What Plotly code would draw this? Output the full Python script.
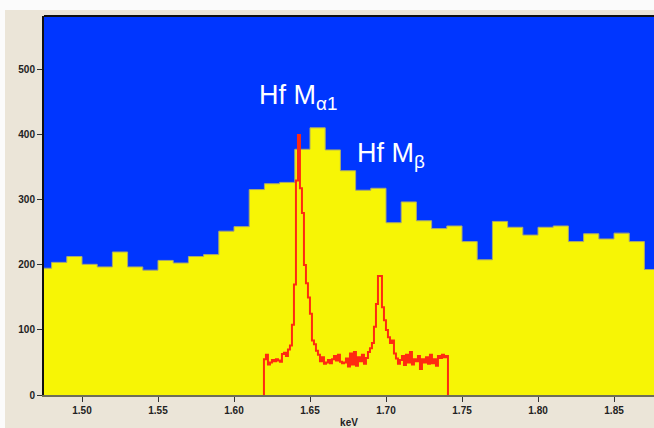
import numpy as np
import plotly.graph_objects as go

# ---- data ----
bin_width = 0.01
bin_left = [round(1.47 + 0.01 * i, 2) for i in range(41)]
hist_counts = [195, 204, 213, 201, 197, 220, 197, 192, 207, 203, 213, 216, 252, 259,
               316, 325, 327, 378, 411, 377, 345, 315, 318, 265, 297, 268, 256, 260,
               236, 208, 267, 258, 246, 258, 260, 236, 248, 240, 249, 236, 193]

red_start = 1.6197
red_step = 0.0013158
red_counts = [55, 62, 47, 50, 54, 52, 55, 53, 51, 63, 65, 60, 70, 76, 108, 170, 330, 400,
              318, 280, 200, 172, 150, 125, 84, 78, 68, 62, 52, 58, 48, 50, 54, 49, 55, 60,
              53, 62, 51, 49, 50, 56, 44, 64, 47, 66, 45, 58, 52, 62, 48, 57, 66, 72, 80,
              105, 140, 183, 183, 135, 115, 100, 89, 80, 84, 64, 56, 48, 54, 60, 46, 62,
              50, 66, 47, 55, 52, 60, 40, 55, 50, 58, 48, 62, 49, 55, 45, 60, 57, 62, 58, 60]
red_energy = [red_start + red_step * i for i in range(len(red_counts))]

y_ticks = [0, 100, 200, 300, 400, 500]
x_ticks = [1.50, 1.55, 1.60, 1.65, 1.70, 1.75, 1.80, 1.85]
x_tick_text = ["1.50", "1.55", "1.60", "1.65", "1.70", "1.75", "1.80", "1.85"]

# ---- build step arrays ----
hx = bin_left + [bin_left[-1] + bin_width]
hy = hist_counts + [hist_counts[-1]]

rx = [red_energy[0]] + red_energy + [red_energy[-1] + red_step]
ry = [0] + red_counts + [0]

BLUE = "#0036ff"
YELLOW = "#f7f505"
BEIGE = "#ebe5d8"

fig = go.Figure()
fig.add_trace(go.Scatter(x=hx, y=hy, mode="lines", line_shape="hv",
                         fill="tozeroy", fillcolor=YELLOW,
                         line=dict(color="#a8a870", width=1), hoverinfo="skip"))
fig.add_trace(go.Scatter(x=rx, y=ry, mode="lines", line_shape="hv",
                         line=dict(color="#ff2a10", width=2), hoverinfo="skip"))

fig.add_annotation(x=1.6421, y=458, xref="x", yref="y", showarrow=False,
                   text="Hf M<sub>α1</sub>",
                   font=dict(family="Liberation Sans, Arial", size=27, color="white"))
fig.add_annotation(x=1.7033, y=369, xref="x", yref="y", showarrow=False,
                   text="Hf M<sub>β</sub>",
                   font=dict(family="Liberation Sans, Arial", size=27, color="white"))

# white outer strips
fig.add_shape(type="rect", xref="paper", yref="paper", x0=-0.08, x1=1.01, y0=1.0158, y1=1.06,
              fillcolor="#fbfbfb", line_width=0, layer="below")
fig.add_shape(type="rect", xref="paper", yref="paper", x0=-0.08, x1=-0.0639, y0=-0.1, y1=1.06,
              fillcolor="#fbfbfb", line_width=0, layer="below")

tickfont = dict(family="Liberation Sans, Arial", size=10, color="#222222", weight="bold")

fig.update_layout(
    width=654, height=428,
    margin=dict(l=44, r=0, t=16, b=33),
    paper_bgcolor=BEIGE, plot_bgcolor=BLUE,
    showlegend=False,
    xaxis=dict(range=[1.475, 1.8763], tickvals=x_ticks, ticktext=x_tick_text,
               ticks="outside", ticklen=5, tickcolor="#333", tickfont=tickfont,
               showgrid=False, zeroline=False, showline=True, linecolor="#6e6e58",
               linewidth=2, mirror=False,
               title=dict(text="keV", font=tickfont, standoff=4)),
    yaxis=dict(range=[0, 583], tickvals=y_ticks, ticks="outside", ticklen=5,
               tickcolor="#333", tickfont=tickfont, showgrid=False, zeroline=False,
               showline=True, linecolor="#111", linewidth=2),
)
# top border line
fig.add_shape(type="line", xref="paper", yref="paper", x0=0, x1=1, y0=1, y1=1,
              line=dict(color="#111", width=2))

fig.write_html("out.html")
